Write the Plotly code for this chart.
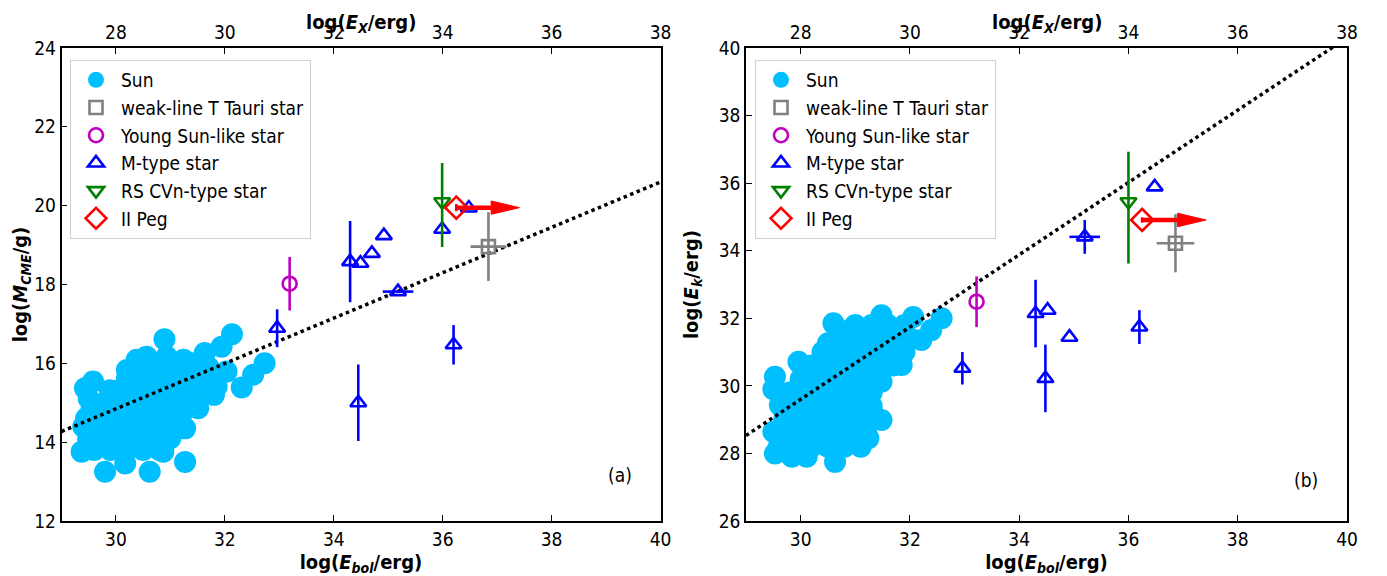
import plotly.graph_objects as go

# ---------------- data: panel (a) ----------------
sun_a_x = [30.89, 32.13, 32.73, 32.52, 32.31, 31.94, 31.63, 30.56, 29.43, 29.58, 29.89, 29.37,
           29.80, 30.62, 31.27, 30.17, 30.87, 31.27, 31.51, 31.85, 32.03, 29.55, 29.40, 29.49,
           30.20, 30.38, 31.24, 30.93, 31.42, 31.70, 31.80, 29.45, 29.50,
           29.6, 29.9, 30.2, 30.5, 30.8,
           29.5, 29.8, 30.1, 30.4, 30.7, 31.0,
           29.6, 29.9, 30.2, 30.5, 30.8, 31.1,
           29.7, 30.0, 30.3, 30.6, 30.9, 31.2,
           29.8, 30.1, 30.4, 30.7, 31.0, 31.3,
           30.0, 30.3, 30.6, 30.9, 31.2, 31.5,
           30.2, 30.5, 30.8, 31.1, 31.4, 31.7,
           30.5, 30.8, 31.1]
sun_a_y = [16.61, 16.74, 16.00, 15.71, 15.39, 16.42, 16.26, 16.17, 15.37, 15.54, 15.32, 13.76,
           13.25, 13.25, 13.50, 13.46, 13.76, 14.35, 14.86, 15.41, 15.79, 14.82, 14.39, 14.06,
           15.83, 16.09, 16.09, 16.17, 16.00, 15.90, 15.20, 14.60, 15.10,
           13.8, 13.8, 13.8, 13.8, 13.8,
           14.1, 14.1, 14.1, 14.1, 14.1, 14.1,
           14.4, 14.4, 14.4, 14.4, 14.4, 14.4,
           14.7, 14.7, 14.7, 14.7, 14.7, 14.7,
           15.0, 15.0, 15.0, 15.0, 15.0, 15.0,
           15.3, 15.3, 15.3, 15.3, 15.3, 15.3,
           15.6, 15.6, 15.6, 15.6, 15.6, 15.6,
           15.9, 15.9, 15.9]

fit_a_x = [29.0, 40.0]
fit_a_y = [14.27, 20.60]

mtype_a_x = [32.96, 34.30, 34.49, 34.70, 34.92, 35.18, 35.99, 36.48, 34.45, 36.20]
mtype_a_y = [16.89, 18.58, 18.54, 18.79, 19.24, 17.82, 19.40, 19.94, 15.00, 16.47]
mtype_a_yerr = [0.48, 1.03, 0, 0, 0, 0, 0, 0, 0.97, 0.50]
mtype_a_xerr = [0, 0, 0, 0, 0, 0.28, 0, 0, 0, 0]

young_a_x = [33.19]
young_a_y = [18.02]
young_a_yerr = [0.68]

wtts_a_x = [36.84]
wtts_a_y = [18.96]
wtts_a_xerr = [0.33]
wtts_a_yerr = [0.87]

rscvn_a_x = [35.99]
rscvn_a_y = [20.10]
rscvn_a_yerr_plus = [0.98]
rscvn_a_yerr_minus = [1.15]

iipeg_a_x = [36.25]
iipeg_a_y = [19.95]
iipeg_a_yerr = [0.09]
iipeg_a_arrow_end = [37.41]

# ---------------- data: panel (b) ----------------
sun_b_x = [29.53, 29.84, 30.63, 31.24, 31.48, 29.53, 29.62, 29.96, 30.60, 30.50, 30.90, 31.48,
           32.06, 32.58, 32.39, 32.21, 31.85, 31.48, 29.50, 30.11, 31.30, 29.50,
           29.6, 29.9, 30.2, 30.5, 30.8, 31.1,
           29.7, 30.0, 30.3, 30.6, 30.9, 31.2,
           29.7, 30.0, 30.3, 30.6, 30.9, 31.2,
           29.8, 30.1, 30.4, 30.7, 31.0, 31.3,
           29.8, 30.1, 30.4, 30.7, 31.0, 31.3,
           30.0, 30.3, 30.6, 30.9, 31.2,
           30.2, 30.5, 30.8, 31.1, 31.4, 31.7,
           30.4, 30.7, 31.0, 31.3, 31.6, 31.9,
           30.8, 31.1, 31.4, 31.7, 32.0,
           31.0, 31.3, 31.6, 31.9]
sun_b_y = [28.00, 27.90, 27.75, 28.45, 28.99, 30.27, 29.43, 30.71, 31.85, 31.26, 31.65, 32.09,
           32.04, 32.00, 31.65, 31.36, 30.62, 30.12, 28.64, 27.90, 29.28, 29.90,
           28.2, 28.2, 28.2, 28.2, 28.2, 28.2,
           28.6, 28.6, 28.6, 28.6, 28.6, 28.6,
           29.0, 29.0, 29.0, 29.0, 29.0, 29.0,
           29.4, 29.4, 29.4, 29.4, 29.4, 29.4,
           29.8, 29.8, 29.8, 29.8, 29.8, 29.8,
           30.2, 30.2, 30.2, 30.2, 30.2,
           30.6, 30.6, 30.6, 30.6, 30.6, 30.6,
           31.0, 31.0, 31.0, 31.0, 31.0, 31.0,
           31.4, 31.4, 31.4, 31.4, 31.4,
           31.8, 31.8, 31.8, 31.8]

fit_b_x = [29.0, 40.0]
fit_b_y = [28.53, 40.30]

mtype_b_x = [32.96, 34.30, 34.52, 34.48, 34.92, 35.20, 36.20, 36.48]
mtype_b_y = [30.52, 32.14, 32.24, 30.22, 31.44, 34.41, 31.74, 35.89]
mtype_b_yerr = [0.48, 1.0, 0, 1.0, 0, 0.5, 0.5, 0]
mtype_b_xerr = [0, 0, 0, 0, 0, 0.28, 0, 0]

young_b_x = [33.22]
young_b_y = [32.49]
young_b_yerr = [0.75]

wtts_b_x = [36.86]
wtts_b_y = [34.22]
wtts_b_xerr = [0.345]
wtts_b_yerr = [0.86]

rscvn_b_x = [36.00]
rscvn_b_y = [35.45]
rscvn_b_yerr_plus = [1.48]
rscvn_b_yerr_minus = [1.83]

iipeg_b_x = [36.25]
iipeg_b_y = [34.91]
iipeg_b_yerr = [0.08]
iipeg_b_arrow_end = [37.42]

# tick values
bottom_ticks = [30, 32, 34, 36, 38, 40]
top_ticks = [28, 30, 32, 34, 36, 38]
ya_ticks = [12, 14, 16, 18, 20, 22, 24]
yb_ticks = [26, 28, 30, 32, 34, 36, 38, 40]

# ---------------- style ----------------
SUN = "#00BFFF"
BLUE = "#0000FF"
GREEN = "#008000"
MAG = "#BF00BF"
GREY = "#808080"
RED = "#FF0000"
FONT = "DejaVu Sans Condensed, Liberation Sans Narrow, DejaVu Sans, sans-serif"
LW = 2.6
HEAD_LEN = 0.52

# page body has an 8px margin; the figure is sized to fill the rest of the window
OFF = 8
W, H = 1387 - OFF, 576 - OFF

fig = go.Figure()


def add_panel(xa, ya, leg, sx, sy, fx, fy, mx, my, myerr, mxerr, yx, yy, yyerr,
              wx, wy, wxerr, wyerr, rx, ry, rp, rm, px, py, pyerr, pend, head_half):
    fig.add_trace(go.Scatter(x=sx, y=sy, mode="markers", name="Sun", legend=leg,
                             xaxis=xa, yaxis=ya,
                             marker=dict(color=SUN, size=22, line=dict(width=0))))
    fig.add_trace(go.Scatter(x=fx, y=fy, mode="lines", showlegend=False, xaxis=xa, yaxis=ya,
                             line=dict(color="black", width=3.5, dash="dot")))
    fig.add_trace(go.Scatter(x=wx, y=wy, mode="markers", name="weak-line T Tauri star",
                             legend=leg, xaxis=xa, yaxis=ya,
                             error_x=dict(type="data", array=wxerr, color=GREY, thickness=LW, width=0),
                             error_y=dict(type="data", array=wyerr, color=GREY, thickness=LW, width=0),
                             marker=dict(symbol="square-open", size=13, color=GREY,
                                         line=dict(width=LW, color=GREY))))
    fig.add_trace(go.Scatter(x=yx, y=yy, mode="markers", name="Young Sun-like star",
                             legend=leg, xaxis=xa, yaxis=ya,
                             error_y=dict(type="data", array=yyerr, color=MAG, thickness=LW, width=0),
                             marker=dict(symbol="circle-open", size=14, color=MAG,
                                         line=dict(width=LW, color=MAG))))
    fig.add_trace(go.Scatter(x=mx, y=my, mode="markers", name="M-type star",
                             legend=leg, xaxis=xa, yaxis=ya,
                             error_x=dict(type="data", array=mxerr, color=BLUE, thickness=LW, width=0),
                             error_y=dict(type="data", array=myerr, color=BLUE, thickness=LW, width=0),
                             marker=dict(symbol="triangle-up-open", size=14, color=BLUE,
                                         line=dict(width=LW, color=BLUE))))
    fig.add_trace(go.Scatter(x=rx, y=ry, mode="markers", name="RS CVn-type star",
                             legend=leg, xaxis=xa, yaxis=ya,
                             error_y=dict(type="data", array=rp, arrayminus=rm, color=GREEN,
                                          thickness=LW, width=0),
                             marker=dict(symbol="triangle-down-open", size=14, color=GREEN,
                                         line=dict(width=LW, color=GREEN))))
    # II Peg arrow (lower limit)
    head_base = pend[0] - HEAD_LEN
    fig.add_trace(go.Scatter(x=[px[0], head_base], y=[py[0], py[0]], mode="lines",
                             showlegend=False, xaxis=xa, yaxis=ya,
                             line=dict(color=RED, width=4.5)))
    fig.add_trace(go.Scatter(x=[head_base, pend[0], head_base, head_base],
                             y=[py[0] + head_half, py[0], py[0] - head_half, py[0] + head_half],
                             mode="lines", fill="toself", fillcolor=RED, showlegend=False,
                             xaxis=xa, yaxis=ya, line=dict(color=RED, width=1)))
    fig.add_trace(go.Scatter(x=px, y=py, mode="markers", name="II Peg",
                             legend=leg, xaxis=xa, yaxis=ya,
                             error_y=dict(type="data", array=pyerr, color=RED, thickness=LW, width=0),
                             marker=dict(symbol="diamond-open", size=17, color=RED,
                                         line=dict(width=LW, color=RED))))


add_panel("x", "y", "legend", sun_a_x, sun_a_y, fit_a_x, fit_a_y, mtype_a_x, mtype_a_y,
          mtype_a_yerr, mtype_a_xerr, young_a_x, young_a_y, young_a_yerr,
          wtts_a_x, wtts_a_y, wtts_a_xerr, wtts_a_yerr, rscvn_a_x, rscvn_a_y,
          rscvn_a_yerr_plus, rscvn_a_yerr_minus, iipeg_a_x, iipeg_a_y, iipeg_a_yerr,
          iipeg_a_arrow_end, 0.17)
add_panel("x2", "y2", "legend2", sun_b_x, sun_b_y, fit_b_x, fit_b_y, mtype_b_x, mtype_b_y,
          mtype_b_yerr, mtype_b_xerr, young_b_x, young_b_y, young_b_yerr,
          wtts_b_x, wtts_b_y, wtts_b_xerr, wtts_b_yerr, rscvn_b_x, rscvn_b_y,
          rscvn_b_yerr_plus, rscvn_b_yerr_minus, iipeg_b_x, iipeg_b_y, iipeg_b_yerr,
          iipeg_b_arrow_end, 0.20)

# dummy traces for top axes
fig.add_trace(go.Scatter(x=[None], y=[None], xaxis="x3", yaxis="y", showlegend=False, hoverinfo="skip"))
fig.add_trace(go.Scatter(x=[None], y=[None], xaxis="x4", yaxis="y2", showlegend=False, hoverinfo="skip"))

Y0, Y1 = 1 - (521 - OFF) / H, 1 - (48 - OFF) / H
XA = [(61.5 - OFF) / W, (660.5 - OFF) / W]
XB = [(746 - OFF) / W, (1347 - OFF) / W]

tickfont = dict(family=FONT, size=19, color="black")
titlefont = dict(family=FONT, size=20, color="black")

common = dict(showline=True, linecolor="black", linewidth=1.6, ticks="inside", ticklen=6,
              tickwidth=1.2, tickcolor="black", showgrid=False, zeroline=False,
              tickfont=tickfont, automargin=False)

bottom_title = "<b>log(<i>E</i><sub><i>bol</i></sub>/erg)</b>"
top_title = "<b>log(<i>E</i><sub><i>X</i></sub>/erg)</b>"

fig.update_layout(
    width=W, height=H,
    margin=dict(l=0, r=0, t=0, b=0, autoexpand=False),
    paper_bgcolor="white", plot_bgcolor="white",
    font=dict(family=FONT, color="black"),
    xaxis=dict(domain=XA, anchor="y", range=[29, 40], tickvals=bottom_ticks, mirror=True,
               title=dict(text=bottom_title, font=titlefont), **common),
    yaxis=dict(domain=[Y0, Y1], anchor="x", range=[12, 24], tickvals=ya_ticks, mirror=True,
               title=dict(text="<b>log(<i>M</i><sub><i>CME</i></sub>/g)</b>", font=titlefont),
               **common),
    xaxis3=dict(overlaying="x", anchor="y", side="top", range=[27, 38], tickvals=top_ticks,
                **common),
    xaxis2=dict(domain=XB, anchor="y2", range=[29, 40], tickvals=bottom_ticks, mirror=True,
                title=dict(text=bottom_title, font=titlefont), **common),
    yaxis2=dict(domain=[Y0, Y1], anchor="x2", range=[26, 40], tickvals=yb_ticks, mirror=True,
                title=dict(text="<b>log(<i>E</i><sub><i>k</i></sub>/erg)</b>", font=titlefont),
                **common),
    xaxis4=dict(overlaying="x2", anchor="y2", side="top", range=[27, 38], tickvals=top_ticks,
                **common),
    legend=dict(x=(70 - OFF) / W, y=1 - (60 - OFF) / H, xanchor="left", yanchor="top",
                bgcolor="white", bordercolor="#d0d0d0", borderwidth=1,
                font=dict(family=FONT, size=19, color="black"), itemwidth=40),
    legend2=dict(x=(755 - OFF) / W, y=1 - (60 - OFF) / H, xanchor="left", yanchor="top",
                 bgcolor="white", bordercolor="#d0d0d0", borderwidth=1,
                 font=dict(family=FONT, size=19, color="black"), itemwidth=40),
    annotations=[
        dict(text=top_title, xref="x domain", yref="paper", x=0.5, y=1,
             yanchor="top", showarrow=False, font=titlefont),
        dict(text=top_title, xref="x2 domain", yref="paper", x=0.5, y=1,
             yanchor="top", showarrow=False, font=titlefont),
        dict(text="(a)", xref="x domain", yref="y domain", x=0.955, y=0.07,
             showarrow=False, font=dict(family=FONT, size=19, color="black")),
        dict(text="(b)", xref="x2 domain", yref="y2 domain", x=0.955, y=0.06,
             showarrow=False, font=dict(family=FONT, size=19, color="black")),
    ],
)

fig.write_html("out.html")
